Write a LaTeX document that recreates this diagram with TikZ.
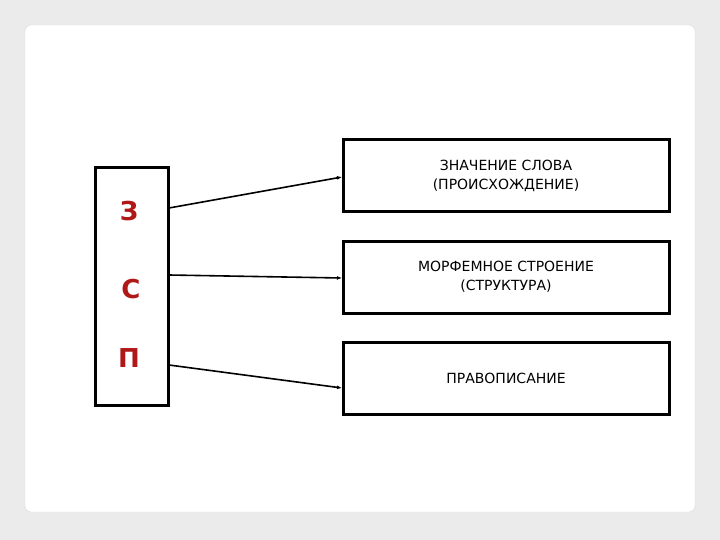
\documentclass[tikz,border=0pt]{standalone}
\usepackage{fontspec}
\setmainfont{DejaVu Sans}
\usetikzlibrary{arrows.meta}
\definecolor{bg}{HTML}{EBEBEB}
\definecolor{letter}{HTML}{B01818}
\begin{document}
\begin{tikzpicture}[x=1pt,y=-1pt,
  box/.style={draw=black,line width=3pt,fill=white,inner sep=0pt},
  lbl/.style={font=\fontsize{14}{19}\selectfont,align=center,text=black},
  let/.style={font=\bfseries\fontsize{26}{26}\selectfont,text=letter},
  con/.style={line width=1.6pt,-{Latex[length=5pt,width=4pt]}}]
\fill[bg] (0,0) rectangle (720,540);
\useasboundingbox (0,0) rectangle (720,540);
\draw[fill=white,rounded corners=6pt,draw=black!15] (25,25) rectangle (695,512);
\node[box,minimum width=73pt,minimum height=237pt] (L) at (131.5,286.5) {};
\node[box,minimum width=326pt,minimum height=72pt] (a) at (506,176) {};
\node[box,minimum width=326pt,minimum height=72pt] (b) at (506,277) {};
\node[box,minimum width=326pt,minimum height=72pt] (c) at (506,378) {};
\node[lbl] (ta) at (a) {ЗНАЧЕНИЕ СЛОВА\\(ПРОИСХОЖДЕНИЕ)};
\node[lbl] (tb) at (b) {МОРФЕМНОЕ СТРОЕНИЕ\\(СТРУКТУРА)};
\node[lbl] (tc) at (c) {ПРАВОПИСАНИЕ};
\node[let] (z) at (129,211) {З};
\node[let] (s) at (131,289) {С};
\node[let] (p) at (129,358) {П};
\coordinate (z1) at (169,208);
\coordinate (s1) at (169,275);
\coordinate (p1) at (169,365);
\coordinate (a1) at (342,177);
\coordinate (b1) at (342,278);
\coordinate (c1) at (342,388);
\draw[con] (z1) -- (a1);
\draw[con] (s1) -- (b1);
\draw[con] (p1) -- (c1);
\end{tikzpicture}
\end{document}
